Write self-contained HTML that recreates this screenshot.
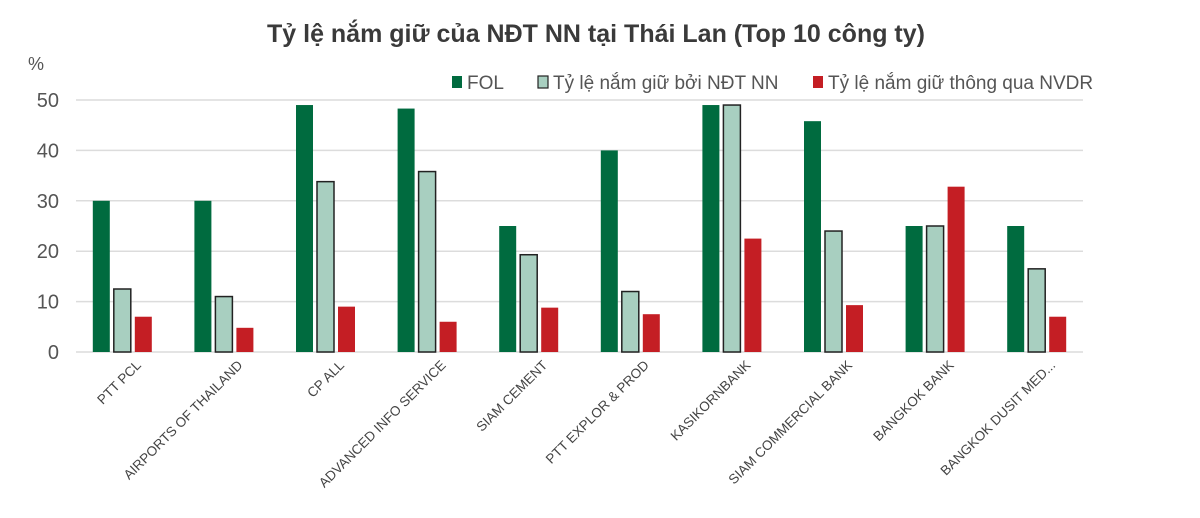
<!DOCTYPE html>
<html><head><meta charset="utf-8"><style>
body{margin:0;background:#fff;width:1200px;height:518px;overflow:hidden}
svg{display:block;font-family:"Liberation Sans",sans-serif}
</style></head><body>
<svg id="chart" width="1200" height="518">
<text x="596" y="42" text-anchor="middle" font-size="25" font-weight="bold" fill="#3a3a3a">Tỷ lệ nắm giữ của NĐT NN tại Thái Lan (Top 10 công ty)</text>
<text x="28" y="70" font-size="18" fill="#555">%</text>
<g id="legend">
<rect x="452" y="76" width="10" height="12" fill="#006b3f"/>
<text x="467" y="89" font-size="19" fill="#555">FOL</text>
<rect x="538" y="76" width="10" height="12" fill="#a8cfc0" stroke="#222" stroke-width="1.2"/>
<text x="553" y="89" font-size="19" fill="#555">Tỷ lệ nắm giữ bởi NĐT NN</text>
<rect x="813" y="76" width="10" height="12" fill="#c41e24"/>
<text x="828" y="89" font-size="19" fill="#555">Tỷ lệ nắm giữ thông qua NVDR</text>
</g>
<g id="grid"></g><g id="bars"></g><g id="labels"></g>
</svg>
<script>
const categories=["PTT PCL","AIRPORTS OF THAILAND","CP ALL","ADVANCED INFO SERVICE","SIAM CEMENT","PTT EXPLOR & PROD","KASIKORNBANK","SIAM COMMERCIAL BANK","BANGKOK BANK","BANGKOK DUSIT MED..."];
const folValues=[30,30,49,48.3,25,40,49,45.8,25,25];
const foreignValues=[12.5,11,33.8,35.8,19.3,12,49,24,25,16.5];
const nvdrValues=[7,4.8,9,6,8.8,7.5,22.5,9.3,32.8,7];
const yTicks=[0,10,20,30,40,50];
const NS="http://www.w3.org/2000/svg";
const x0=71,step=101.6,y0=352,yMax=50,yTop=100;
const y=v=>y0-(v/yMax)*(y0-yTop);
const cx=i=>x0+step*(i+0.5);
function mk(tag,attrs,parent){const e=document.createElementNS(NS,tag);for(const k in attrs)e.setAttribute(k,attrs[k]);parent.appendChild(e);return e;}
const grid=document.getElementById('grid'),bars=document.getElementById('bars'),labels=document.getElementById('labels');
yTicks.forEach(t=>{
 const l=mk('line',{x1:76,x2:1083,y1:y(t),y2:y(t),stroke:'#dcdcdc','stroke-width':1.5},grid);
 
 
 const tx=mk('text',{x:59,y:y(t)+7,'text-anchor':'end','font-size':20,fill:'#555'},grid);
 tx.textContent=t;
 
 
});
const series=[[folValues,'#006b3f',null,'fol'],[foreignValues,'#a8cfc0','#222','foreign'],[nvdrValues,'#c41e24',null,'nvdr']];
categories.forEach((c,i)=>{
 series.forEach((s,j)=>{
  const v=s[0][i],bx=cx(i)-29+j*21;
  const r=mk('rect',{x:bx,y:y(v),width:17,height:y0-y(v),fill:s[1]},bars);
  if(s[2]){r.setAttribute('stroke',s[2]);r.setAttribute('stroke-width',1.5);}
  
  
 });
 const lx=cx(i)+20,ly=366;
 const t=mk('text',{x:lx,y:ly,'text-anchor':'end','font-size':13.5,fill:'#444',transform:`rotate(-45 ${lx} ${ly})`},labels);
 t.textContent=c;
 
 
});
</script>
</body></html>
